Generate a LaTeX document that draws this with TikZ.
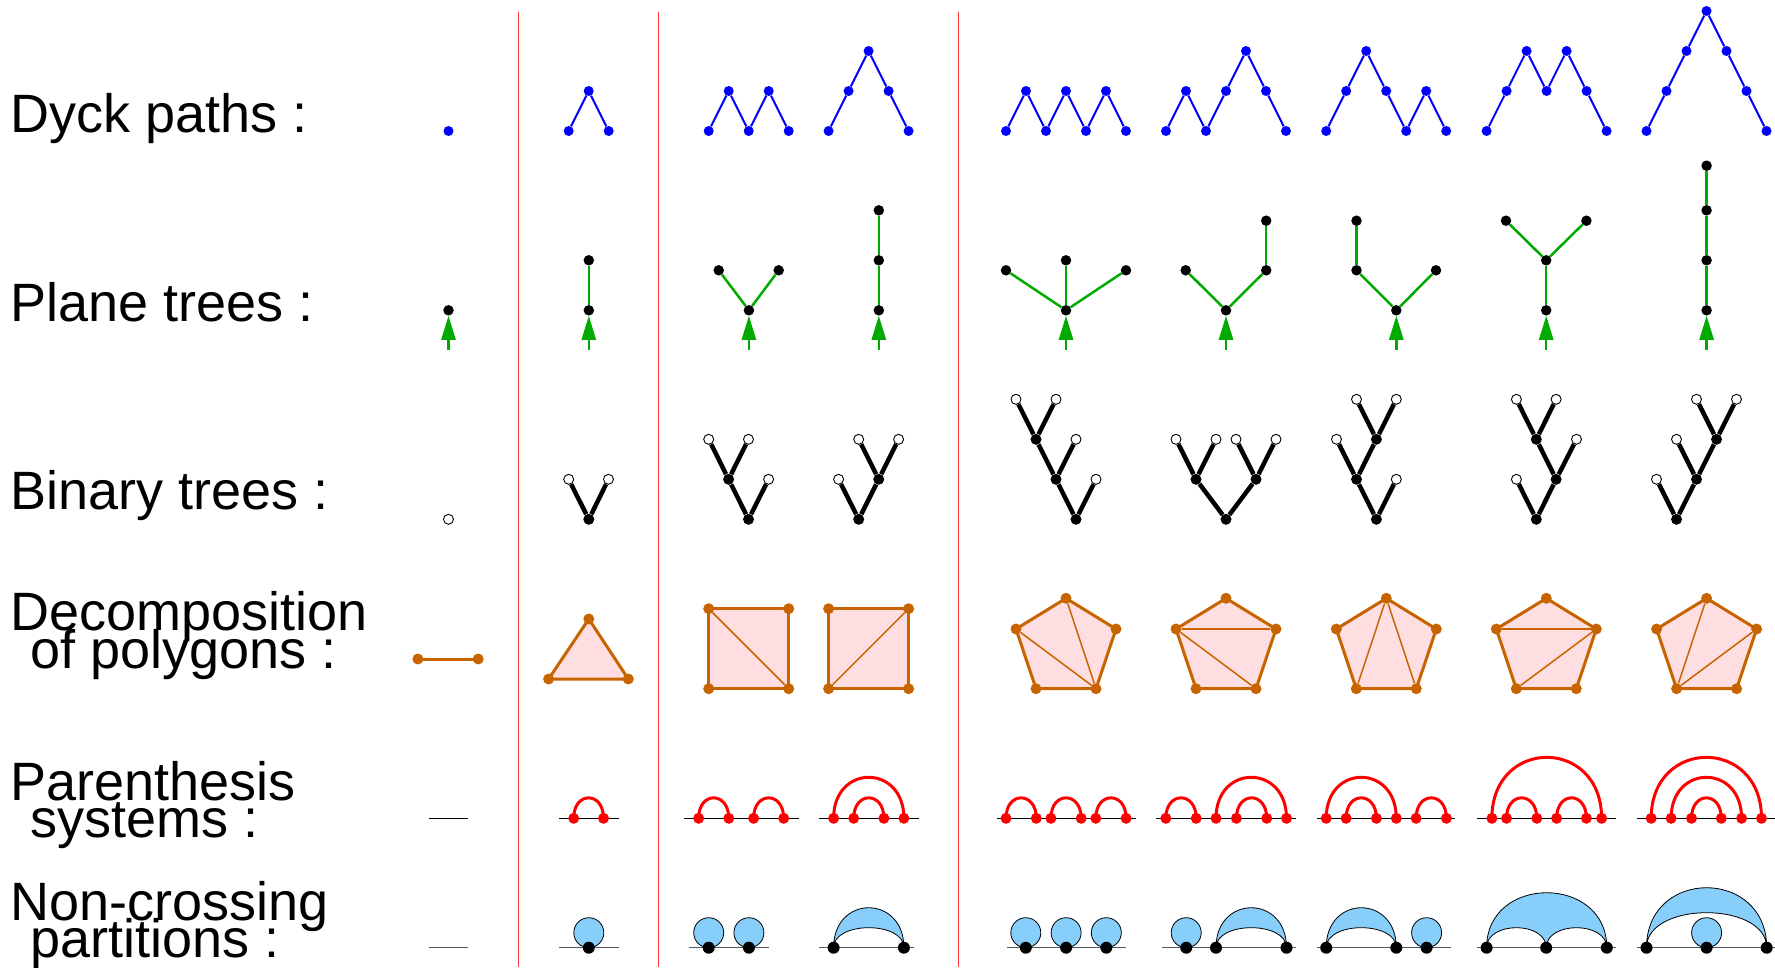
\documentclass[tikz,border=0pt]{standalone}
\usepackage{fontspec}
\setmainfont{Liberation Sans}
\usetikzlibrary{arrows.meta}
\definecolor{dyckblue}{RGB}{0,0,255}
\definecolor{ptgreen}{RGB}{0,170,0}
\definecolor{polybrown}{RGB}{200,100,0}
\definecolor{polypink}{RGB}{255,222,226}
\definecolor{ncblue}{RGB}{135,206,250}
\pgfdeclarelayer{bg}
\pgfsetlayers{bg,main}
\newcommand\dyckrow[3]{%
  \foreach \h [count=\i from 0] in {#3} {\node[dyckdot] (#1-\i) at ({#2+20*\i},{131-40*\h}) {};}%
}
\newcommand\dyckedges[2]{%
  \foreach \i [remember=\i as \j (initially 0)] in {1,...,#2} {\draw[dyckedge] (#1-\j) -- (#1-\i);}%
}
\newcommand\pent[2]{%
  \node[pvert] (#1T) at (#2,598.3) {};
  \node[pvert] (#1L) at ({#2-50},629) {};
  \node[pvert] (#1R) at ({#2+50},629) {};
  \node[pvert] (#1A) at ({#2-30},688.7) {};
  \node[pvert] (#1B) at ({#2+30},688.7) {};
  \begin{pgfonlayer}{bg}
  \filldraw[pfill,pside] (#1T.center) -- (#1R.center) -- (#1B.center) -- (#1A.center) -- (#1L.center) -- cycle;
  \end{pgfonlayer}
}
\newcommand\pdots[2]{%
  \foreach \x [count=\i] in {#2} {\node[pardot] (#1-\i) at (\x,818.3) {};}%
}
\newcommand\parc[3]{\draw[pararc] (#1.center) .. controls +(0,-#3) and +(0,-#3) .. (#2.center);}
\newcommand\ndots[2]{%
  \foreach \x [count=\i] in {#2} {\node[ncdot] (#1-\i) at (\x,947.7) {};}%
}
\newcommand\ncblob[1]{\draw[blob] ([yshift=15pt]#1.center) circle[radius=15pt];}
\newcommand\nclune[4]{\draw[blob] (#1.center) .. controls +(0,-#3) and +(0,-#3) .. (#2.center) .. controls +(0,-#4) and +(0,-#4) .. (#1.center) -- cycle;}
\begin{document}
\begin{tikzpicture}[x=1pt,y=-1pt,
  dyckdot/.style={circle,fill=dyckblue,inner sep=0pt,minimum size=10pt},
  dyckedge/.style={dyckblue,line width=2pt},
  ptdot/.style={circle,fill=black,inner sep=0pt,minimum size=10.5pt},
  ptedge/.style={ptgreen,line width=2.5pt},
  ptarrow/.style={ptgreen,line width=2.5pt,-{Triangle[length=24pt,width=14pt]}},
  leafnode/.style={circle,draw=black,fill=white,line width=0.9pt,inner sep=0pt,minimum size=10pt},
  innode/.style={circle,fill=black,inner sep=0pt,minimum size=11pt},
  bedge/.style={black,line width=4.5pt},
  pvert/.style={circle,fill=polybrown,inner sep=0pt,minimum size=11pt},
  pside/.style={draw=polybrown,line width=3pt,line join=round},
  pdiag/.style={polybrown,line width=1.5pt},
  pfill/.style={fill=polypink},
  pardot/.style={circle,fill=red,inner sep=0pt,minimum size=11pt},
  pararc/.style={red,line width=3pt},
  parline/.style={black,line width=1.2pt},
  ncdot/.style={circle,fill=black,inner sep=0pt,minimum size=12pt},
  ncline/.style={black!65,line width=1.5pt},
  blob/.style={fill=ncblue,draw=black,line width=0.8pt},
  redsep/.style={red!80,line width=1pt},
  lbl/.style={anchor=base west,inner sep=0pt,font=\fontsize{54}{54}\selectfont}]
\useasboundingbox (0,0) rectangle (1775,967);
% labels
\node[lbl] (L1) at (10.5,132.4) {Dyck paths :};
\node[lbl] (L2) at (10.5,321.5) {Plane trees :};
\node[lbl] (L3) at (10.5,509.4) {Binary trees :};
\node[lbl] (L4a) at (10.5,630.5) {Decomposition};
\node[lbl] (L4b) at (30.5,668) {of polygons :};
\node[lbl] (L5a) at (10.5,800.3) {Parenthesis};
\node[lbl] (L5b) at (30.5,837.7) {systems :};
\node[lbl] (L6a) at (10.5,920.3) {Non-crossing};
\node[lbl] (L6b) at (30.5,957.7) {partitions :};
% separators
\coordinate (s1t) at (518.8,11.7); \coordinate (s1b) at (518.8,967);
\coordinate (s2t) at (658.4,11.7); \coordinate (s2b) at (658.4,967);
\coordinate (s3t) at (958.9,11.7); \coordinate (s3b) at (958.9,967);
\draw[redsep] (s1t) -- (s1b);
\draw[redsep] (s2t) -- (s2b);
\draw[redsep] (s3t) -- (s3b);
% ---------- Dyck paths
\dyckrow{d0}{448.5}{0}
\dyckrow{d1}{568.7}{0,1,0}
\dyckrow{d2}{708.7}{0,1,0,1,0}
\dyckrow{d3}{828.6}{0,1,2,1,0}
\dyckrow{d4}{1006}{0,1,0,1,0,1,0}
\dyckrow{d5}{1166}{0,1,0,1,2,1,0}
\dyckrow{d6}{1326.2}{0,1,2,1,0,1,0}
\dyckrow{d7}{1486.6}{0,1,2,1,2,1,0}
\dyckrow{d8}{1646.5}{0,1,2,3,2,1,0}
\dyckedges{d1}{2}
\dyckedges{d2}{4}
\dyckedges{d3}{4}
\dyckedges{d4}{6}
\dyckedges{d5}{6}
\dyckedges{d6}{6}
\dyckedges{d7}{6}
\dyckedges{d8}{6}
% ---------- Plane trees
\node[ptdot] (t0r) at (448.5,310.3) {};
\coordinate (t0s) at (448.5,350);
\node[ptdot] (t1r) at (588.8,310.3) {};
\node[ptdot] (t1a) at (588.8,260.3) {};
\coordinate (t1s) at (588.8,350);
\node[ptdot] (t2r) at (748.9,310.3) {};
\node[ptdot] (t2a) at (718.7,270.3) {};
\node[ptdot] (t2b) at (778.7,270.3) {};
\coordinate (t2s) at (748.9,350);
\node[ptdot] (t3r) at (878.8,310.3) {};
\node[ptdot] (t3a) at (878.8,260.3) {};
\node[ptdot] (t3b) at (878.8,210.3) {};
\coordinate (t3s) at (878.8,350);
\node[ptdot] (t4r) at (1066,310.3) {};
\node[ptdot] (t4a) at (1006,270.3) {};
\node[ptdot] (t4b) at (1066,260.3) {};
\node[ptdot] (t4c) at (1126,270.3) {};
\coordinate (t4s) at (1066,350);
\node[ptdot] (t5r) at (1226,310.3) {};
\node[ptdot] (t5a) at (1185.7,270.3) {};
\node[ptdot] (t5b) at (1266.2,270.3) {};
\node[ptdot] (t5c) at (1266.2,220.7) {};
\coordinate (t5s) at (1226,350);
\node[ptdot] (t6r) at (1396.3,310.3) {};
\node[ptdot] (t6a) at (1356.5,270.3) {};
\node[ptdot] (t6b) at (1436,270.3) {};
\node[ptdot] (t6c) at (1356.5,220.7) {};
\coordinate (t6s) at (1396.3,350);
\node[ptdot] (t7r) at (1546.2,310.3) {};
\node[ptdot] (t7a) at (1546.2,260.3) {};
\node[ptdot] (t7b) at (1506,220.7) {};
\node[ptdot] (t7c) at (1586.4,220.7) {};
\coordinate (t7s) at (1546.2,350);
\node[ptdot] (t8r) at (1706.6,310.3) {};
\node[ptdot] (t8a) at (1706.6,260.3) {};
\node[ptdot] (t8b) at (1706.6,210.3) {};
\node[ptdot] (t8c) at (1706.6,165.7) {};
\coordinate (t8s) at (1706.6,350);
\foreach \k in {0,...,8} {\draw[ptarrow] (t\k s) -- (t\k r);}
\draw[ptedge] (t1r) -- (t1a);
\draw[ptedge] (t2r) -- (t2a); \draw[ptedge] (t2r) -- (t2b);
\draw[ptedge] (t3r) -- (t3a); \draw[ptedge] (t3a) -- (t3b);
\draw[ptedge] (t4r) -- (t4a); \draw[ptedge] (t4r) -- (t4b); \draw[ptedge] (t4r) -- (t4c);
\draw[ptedge] (t5r) -- (t5a); \draw[ptedge] (t5r) -- (t5b); \draw[ptedge] (t5b) -- (t5c);
\draw[ptedge] (t6r) -- (t6a); \draw[ptedge] (t6r) -- (t6b); \draw[ptedge] (t6a) -- (t6c);
\draw[ptedge] (t7r) -- (t7a); \draw[ptedge] (t7a) -- (t7b); \draw[ptedge] (t7a) -- (t7c);
\draw[ptedge] (t8r) -- (t8a); \draw[ptedge] (t8a) -- (t8b); \draw[ptedge] (t8b) -- (t8c);
% ---------- Binary trees
\node[leafnode] (b0) at (448.5,519.3) {};
\node[innode] (b1r) at (588.8,519.3) {};
\node[leafnode] (b1a) at (568.7,479.3) {};
\node[leafnode] (b1b) at (608.5,479.3) {};
\node[innode] (b2r) at (748.5,519.3) {};
\node[innode] (b2i) at (728.6,479.3) {};
\node[leafnode] (b2c) at (768.6,479.3) {};
\node[leafnode] (b2a) at (708.7,439.3) {};
\node[leafnode] (b2b) at (748.5,439.3) {};
\node[innode] (b3r) at (858.7,519.3) {};
\node[leafnode] (b3a) at (838.6,479.3) {};
\node[innode] (b3i) at (878.7,479.3) {};
\node[leafnode] (b3b) at (858.7,439.3) {};
\node[leafnode] (b3c) at (898.6,439.3) {};
\node[innode] (b4r) at (1076,519.3) {};
\node[innode] (b4i) at (1056,479.3) {};
\node[innode] (b4j) at (1036,439.3) {};
\node[leafnode] (b4a) at (1016,399.3) {};
\node[leafnode] (b4b) at (1056,399.3) {};
\node[leafnode] (b4c) at (1076,439.3) {};
\node[leafnode] (b4d) at (1096,479.3) {};
\node[innode] (b5r) at (1226,519.3) {};
\node[innode] (b5i) at (1196,479.3) {};
\node[innode] (b5j) at (1256,479.3) {};
\node[leafnode] (b5a) at (1176,439.3) {};
\node[leafnode] (b5b) at (1216,439.3) {};
\node[leafnode] (b5c) at (1236,439.3) {};
\node[leafnode] (b5d) at (1276,439.3) {};
\node[innode] (b6r) at (1376.4,519.3) {};
\node[innode] (b6i) at (1356.5,479.3) {};
\node[leafnode] (b6d) at (1396.3,479.3) {};
\node[leafnode] (b6c) at (1336.5,439.3) {};
\node[innode] (b6j) at (1376.4,439.3) {};
\node[leafnode] (b6a) at (1356.5,399.3) {};
\node[leafnode] (b6b) at (1396.3,399.3) {};
\node[innode] (b7r) at (1536.3,519.3) {};
\node[leafnode] (b7a) at (1516.4,479.3) {};
\node[innode] (b7i) at (1556.1,479.3) {};
\node[innode] (b7j) at (1536.3,439.3) {};
\node[leafnode] (b7d) at (1576.5,439.3) {};
\node[leafnode] (b7b) at (1516.4,399.3) {};
\node[leafnode] (b7c) at (1556.1,399.3) {};
\node[innode] (b8r) at (1676.5,519.3) {};
\node[leafnode] (b8a) at (1656.5,479.3) {};
\node[innode] (b8i) at (1696.5,479.3) {};
\node[leafnode] (b8b) at (1676.5,439.3) {};
\node[innode] (b8j) at (1716.5,439.3) {};
\node[leafnode] (b8c) at (1696.5,399.3) {};
\node[leafnode] (b8d) at (1736.5,399.3) {};
\draw[bedge] (b1r) -- (b1a); \draw[bedge] (b1r) -- (b1b);
\draw[bedge] (b2r) -- (b2i); \draw[bedge] (b2r) -- (b2c); \draw[bedge] (b2i) -- (b2a); \draw[bedge] (b2i) -- (b2b);
\draw[bedge] (b3r) -- (b3a); \draw[bedge] (b3r) -- (b3i); \draw[bedge] (b3i) -- (b3b); \draw[bedge] (b3i) -- (b3c);
\draw[bedge] (b4r) -- (b4i); \draw[bedge] (b4r) -- (b4d); \draw[bedge] (b4i) -- (b4j); \draw[bedge] (b4i) -- (b4c); \draw[bedge] (b4j) -- (b4a); \draw[bedge] (b4j) -- (b4b);
\draw[bedge] (b5r) -- (b5i); \draw[bedge] (b5r) -- (b5j); \draw[bedge] (b5i) -- (b5a); \draw[bedge] (b5i) -- (b5b); \draw[bedge] (b5j) -- (b5c); \draw[bedge] (b5j) -- (b5d);
\draw[bedge] (b6r) -- (b6i); \draw[bedge] (b6r) -- (b6d); \draw[bedge] (b6i) -- (b6c); \draw[bedge] (b6i) -- (b6j); \draw[bedge] (b6j) -- (b6a); \draw[bedge] (b6j) -- (b6b);
\draw[bedge] (b7r) -- (b7a); \draw[bedge] (b7r) -- (b7i); \draw[bedge] (b7i) -- (b7j); \draw[bedge] (b7i) -- (b7d); \draw[bedge] (b7j) -- (b7b); \draw[bedge] (b7j) -- (b7c);
\draw[bedge] (b8r) -- (b8a); \draw[bedge] (b8r) -- (b8i); \draw[bedge] (b8i) -- (b8b); \draw[bedge] (b8i) -- (b8j); \draw[bedge] (b8j) -- (b8c); \draw[bedge] (b8j) -- (b8d);
% ---------- Polygons
\node[pvert] (q0a) at (417.9,659) {};
\node[pvert] (q0b) at (478.2,659) {};
\draw[pside] (q0a.center) -- (q0b.center);
\node[pvert] (q1T) at (588.8,619) {};
\node[pvert] (q1A) at (548.6,679) {};
\node[pvert] (q1B) at (628.3,679) {};
\node[pvert] (q2a) at (708.7,608.7) {};
\node[pvert] (q2b) at (788.7,608.7) {};
\node[pvert] (q2c) at (788.7,688.7) {};
\node[pvert] (q2d) at (708.7,688.7) {};
\node[pvert] (q3a) at (828.6,608.7) {};
\node[pvert] (q3b) at (908.6,608.7) {};
\node[pvert] (q3c) at (908.6,688.7) {};
\node[pvert] (q3d) at (828.6,688.7) {};
\begin{pgfonlayer}{bg}
\filldraw[pfill,pside] (q1T.center) -- (q1B.center) -- (q1A.center) -- cycle;
\filldraw[pfill,pside] (q2a.center) -- (q2b.center) -- (q2c.center) -- (q2d.center) -- cycle;
\filldraw[pfill,pside] (q3a.center) -- (q3b.center) -- (q3c.center) -- (q3d.center) -- cycle;
\end{pgfonlayer}
\draw[pdiag] (q2a) -- (q2c);
\draw[pdiag] (q3d) -- (q3b);
\pent{q4}{1066}
\pent{q5}{1226}
\pent{q6}{1386.3}
\pent{q7}{1546.3}
\pent{q8}{1706.6}
\draw[pdiag] (q4L) -- (q4B); \draw[pdiag] (q4T) -- (q4B);
\draw[pdiag] (q5L) -- (q5R); \draw[pdiag] (q5L) -- (q5B);
\draw[pdiag] (q6T) -- (q6A); \draw[pdiag] (q6T) -- (q6B);
\draw[pdiag] (q7L) -- (q7R); \draw[pdiag] (q7R) -- (q7A);
\draw[pdiag] (q8T) -- (q8A); \draw[pdiag] (q8R) -- (q8A);
% ---------- Parenthesis systems
\foreach \k/\a/\b in {0/428.7/468.2,1/559/618.6,2/683.6/799.1,3/819.2/919,4/996.6/1136.1,5/1156.4/1296,6/1316.8/1455.3,7/1477.2/1615.7,8/1637.1/1775}{
  \coordinate (pl\k a) at (\a,818.3); \coordinate (pl\k b) at (\b,818.3);
  \begin{pgfonlayer}{bg}\draw[parline] (pl\k a) -- (pl\k b);\end{pgfonlayer}
}
\pdots{p1}{573.7,603.5}
\pdots{p2}{698.6,728.8,753.6,783.7}
\pdots{p3}{833.6,853.7,883.9,903.9}
\pdots{p4}{1006,1036.3,1050.9,1081.2,1095.8,1126.1}
\pdots{p5}{1165.8,1196.2,1216,1236.4,1266.7,1286.5}
\pdots{p6}{1326.2,1346.1,1376.4,1396.3,1416.1,1446.4}
\pdots{p7}{1491.9,1506.5,1536.8,1556.6,1586.4,1601.6}
\pdots{p8}{1651.2,1671.1,1691.5,1721.3,1741.6,1761.5}
\begin{pgfonlayer}{bg}
\parc{p1-1}{p1-2}{27.3}
\parc{p2-1}{p2-2}{27.3} \parc{p2-3}{p2-4}{27.3}
\parc{p3-1}{p3-4}{54.7} \parc{p3-2}{p3-3}{27.3}
\parc{p4-1}{p4-2}{27.3} \parc{p4-3}{p4-4}{27.3} \parc{p4-5}{p4-6}{27.3}
\parc{p5-1}{p5-2}{27.3} \parc{p5-3}{p5-6}{54.7} \parc{p5-4}{p5-5}{27.3}
\parc{p6-1}{p6-4}{54.7} \parc{p6-2}{p6-3}{27.3} \parc{p6-5}{p6-6}{27.3}
\parc{p7-1}{p7-6}{81.3} \parc{p7-2}{p7-3}{27.3} \parc{p7-4}{p7-5}{27.3}
\parc{p8-1}{p8-6}{81.3} \parc{p8-2}{p8-5}{54.7} \parc{p8-3}{p8-4}{27.3}
\end{pgfonlayer}
% ---------- Non-crossing partitions
\foreach \k/\a/\b in {0/428.7/468.2,1/559/618.6,2/689/769,3/819.2/914,4/1007/1126,5/1161.7/1296,6/1316.8/1451,7/1477.2/1615.7,8/1637/1775}{
  \coordinate (nl\k a) at (\a,947.7); \coordinate (nl\k b) at (\b,947.7);
  \begin{pgfonlayer}{bg}\draw[ncline] (nl\k a) -- (nl\k b);\end{pgfonlayer}
}
\ndots{n1}{588.8}
\ndots{n2}{708.7,748.9}
\ndots{n3}{833.6,903.9}
\ndots{n4}{1025.8,1066.1,1106.3}
\ndots{n5}{1186.2,1216,1286.5}
\ndots{n6}{1326.2,1396.3,1426.6}
\ndots{n7}{1486.6,1546.2,1606.8}
\ndots{n8}{1646.5,1706.6,1766.7}
\begin{pgfonlayer}{bg}
\ncblob{n1-1}
\ncblob{n2-1} \ncblob{n2-2}
\nclune{n3-1}{n3-2}{53.3}{26.7}
\ncblob{n4-1} \ncblob{n4-2} \ncblob{n4-3}
\ncblob{n5-1} \nclune{n5-2}{n5-3}{53.3}{26.7}
\nclune{n6-1}{n6-2}{53.3}{26.7} \ncblob{n6-3}
\draw[blob] (n7-1.center) .. controls +(0,-73.3) and +(0,-73.3) .. (n7-3.center) .. controls +(0,-26.7) and +(0,-26.7) .. (n7-2.center) .. controls +(0,-26.7) and +(0,-26.7) .. (n7-1.center) -- cycle;
\nclune{n8-1}{n8-3}{80}{46.7} \ncblob{n8-2}
\end{pgfonlayer}
\end{tikzpicture}
\end{document}
